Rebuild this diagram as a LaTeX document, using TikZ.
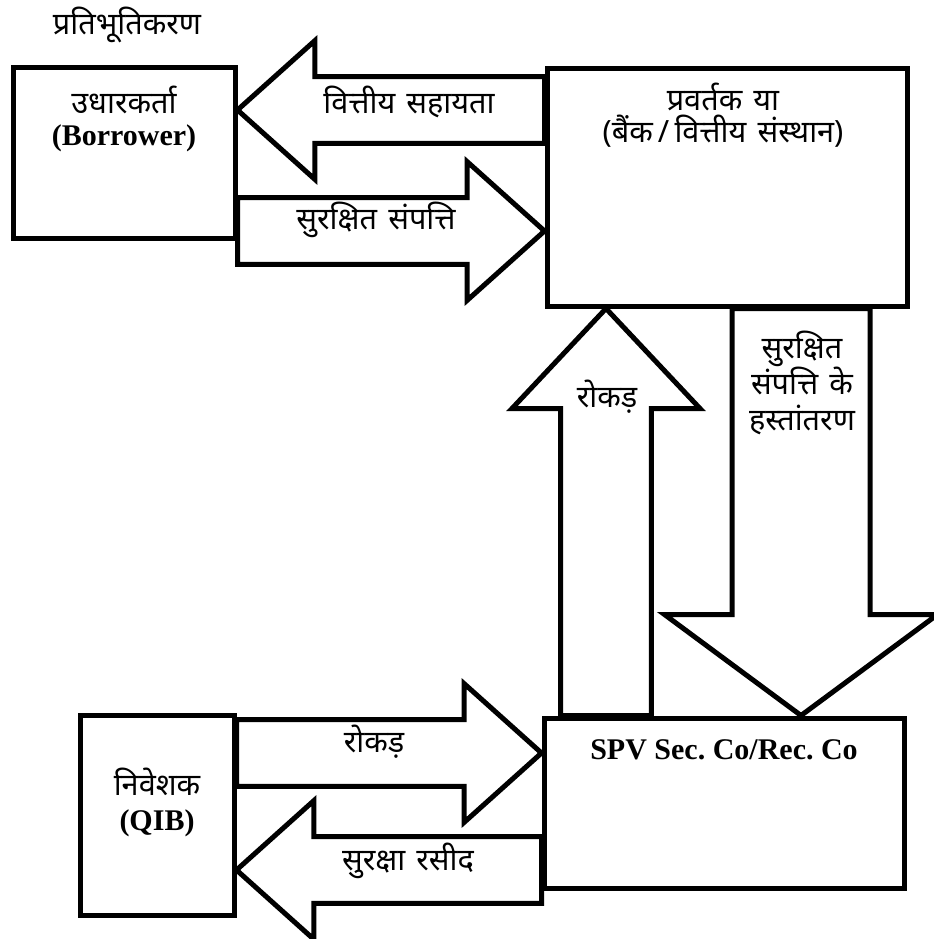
\documentclass[tikz,border=0pt]{standalone}
\usepackage{fontspec}
\setmainfont{Liberation Serif}
\newfontfamily\hindi[Script=Devanagari, WordSpace=1.4]{Noto Sans}
\usetikzlibrary{calc}
\frenchspacing

\tikzset{
  box/.style={draw, line width=3.75pt, inner sep=0pt},
  bigarrow/.style={draw, line width=3.75pt, line join=miter},
  hin/.style={font=\fontsize{23}{27}\selectfont\hindi, inner sep=0pt, align=center},
  lat/.style={font=\fontsize{22.5}{27}\selectfont\bfseries, inner sep=0pt},
}

\newcommand\blockarrow[5]{%
  \coordinate (neck) at ($(#2)!#5!(#1)$);
  \draw[bigarrow] ($(#1)!#3!90:(#2)$) -- ($(neck)!#3!-90:(#1)$) -- ($(neck)!#4!-90:(#1)$)
    -- (#2) -- ($(neck)!#4!90:(#1)$) -- ($(neck)!#3!90:(#1)$) -- ($(#1)!#3!-90:(#2)$) -- cycle;}

\begin{document}
\begin{tikzpicture}[x=0.75pt, y=-0.75pt]
  \useasboundingbox (0,0) rectangle (934,939);
  \node[box, minimum width=166.5pt, minimum height=128.25pt] (borrower) at (124,152.5) {};
  \node[box, minimum width=270pt, minimum height=178.5pt] (promoter) at (727,187) {};
  \node[box, minimum width=115.5pt, minimum height=150pt] (investor) at (157,815) {};
  \node[box, minimum width=270pt, minimum height=127.5pt] (spv) at (724,803) {};

  \coordinate (aid tail) at (promoter.west |- 0,110);
  \coordinate (aid tip) at (borrower.east |- 0,110);
  \coordinate (asset tail) at (borrower.east |- 0,231);
  \coordinate (asset tip) at (promoter.west |- 0,231);
  \coordinate (cashup tail) at (spv.north -| 606,0);
  \coordinate (cashup tip) at (promoter.south -| 606,0);
  \coordinate (transfer tail) at (promoter.south -| 801,0);
  \coordinate (transfer tip) at (spv.north -| 801,0);
  \coordinate (cash tail) at (investor.east |- 0,753);
  \coordinate (cash tip) at (spv.west |- 0,753);
  \coordinate (receipt tail) at (spv.west |- 0,870);
  \coordinate (receipt tip) at (investor.east |- 0,870);

  \blockarrow{aid tail}{aid tip}{25pt}{52pt}{58pt}
  \blockarrow{asset tail}{asset tip}{25pt}{52pt}{58pt}
  \blockarrow{cashup tail}{cashup tip}{34pt}{70.5pt}{75pt}
  \blockarrow{transfer tail}{transfer tip}{51.75pt}{102.4pt}{75.75pt}
  \blockarrow{cash tail}{cash tip}{25pt}{52pt}{58pt}
  \blockarrow{receipt tail}{receipt tip}{25pt}{52pt}{58pt}

  \node[hin] (title) at (127,25) {प्रतिभूतिकरण};
  \node[hin] (borrower hi) at (124,100) {उधारकर्ता};
  \node[lat, anchor=base] (borrower en) at (124,145) {(Borrower)};
  \node[hin] (promoter hi) at (723,97) {प्रवर्तक या};
  \node[hin] (promoter sub) at (723,131) {(बैंक\,/\,वित्तीय संस्थान)};
  \node[hin] (aid text) at (409,102) {वित्तीय सहायता};
  \node[hin] (asset text) at (376,220) {सुरक्षित संपत्ति};
  \node[hin] (cashup text) at (607,397) {रोकड़};
  \node[hin] (transfer text) at (802,383) {सुरक्षित\\संपत्ति के\\हस्तांतरण};
  \node[hin] (cash text) at (374,742) {रोकड़};
  \node[hin] (receipt text) at (408,861) {सुरक्षा रसीद};
  \node[hin] (investor hi) at (157,782) {निवेशक};
  \node[lat, anchor=base] (investor en) at (157,830) {(QIB)};
  \node[lat, anchor=base] (spv text) at (724,759) {SPV Sec. Co/Rec. Co};
\end{tikzpicture}
\end{document}
